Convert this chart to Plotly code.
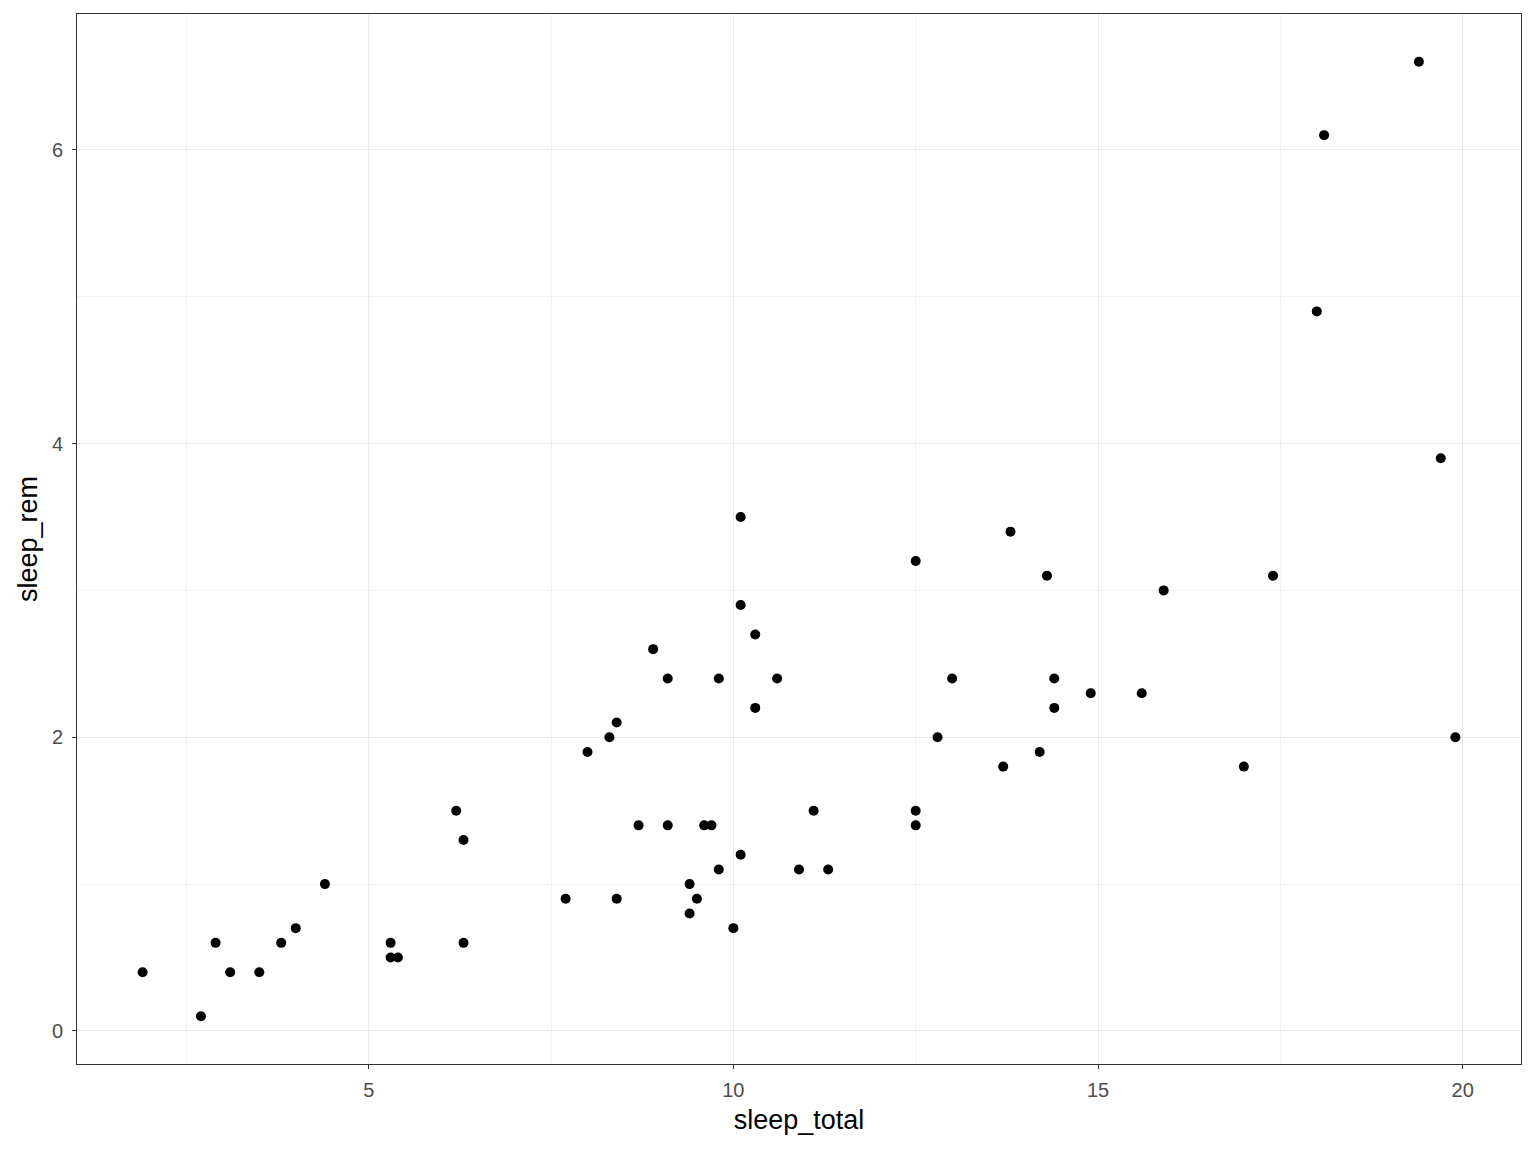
import plotly.graph_objects as go

sleep_total = [17.0, 14.4, 14.9, 4.0, 14.4, 8.7, 10.1, 5.3, 9.4, 10.0, 12.5, 10.3, 8.3, 9.1,
               17.4, 5.3, 18.0, 19.7, 2.9, 3.1, 10.1, 10.9, 12.5, 9.8, 1.9, 2.7, 6.2, 6.3,
               8.0, 9.5, 19.4, 10.1, 14.2, 14.3, 12.5, 19.9, 7.7, 8.4, 3.8, 9.7, 9.4, 10.3,
               13.7, 3.5, 11.1, 18.1, 5.4, 13.0, 9.6, 8.4, 11.3, 10.6, 13.8, 15.9, 12.8,
               9.1, 4.4, 15.6, 8.9, 6.3, 9.8]
sleep_rem = [1.8, 2.4, 2.3, 0.7, 2.2, 1.4, 2.9, 0.6, 0.8, 0.7, 1.5, 2.2, 2.0, 1.4,
             3.1, 0.5, 4.9, 3.9, 0.6, 0.4, 3.5, 1.1, 3.2, 1.1, 0.4, 0.1, 1.5, 0.6,
             1.9, 0.9, 6.6, 1.2, 1.9, 3.1, 1.4, 2.0, 0.9, 0.9, 0.6, 1.4, 1.0, 2.7,
             1.8, 0.4, 1.5, 6.1, 0.5, 2.4, 1.4, 2.1, 1.1, 2.4, 3.4, 3.0, 2.0,
             2.4, 1.0, 2.3, 2.6, 1.3, 2.4]

x_ticks = [5, 10, 15, 20]
y_ticks = [0, 2, 4, 6]

fig = go.Figure(go.Scatter(
    x=sleep_total, y=sleep_rem, mode="markers",
    marker=dict(color="black", size=10, line=dict(width=0)),
    showlegend=False,
))

axis_common = dict(
    showline=True, mirror=True, linecolor="#333333", linewidth=1,
    ticks="outside", ticklen=4, tickcolor="#333333", tickwidth=1,
    tickfont=dict(family="Liberation Sans, Arial", size=20, color="#4D4D4D"),
    showgrid=True, gridcolor="#EBEBEB", gridwidth=1.2,
    zeroline=False,
    title_font=dict(family="Liberation Sans, Arial", size=27, color="black"),
)

xmin, xmax = min(sleep_total), max(sleep_total)
ymin, ymax = min(sleep_rem), max(sleep_rem)
xpad = (xmax - xmin) * 0.05
ypad = (ymax - ymin) * 0.05

fig.update_xaxes(**axis_common, title_text="sleep_total", tickvals=x_ticks,
                 range=[xmin - xpad, xmax + xpad], title_standoff=10, ticklabelstandoff=4,
                 minor=dict(dtick=2.5, tick0=0, showgrid=True, gridcolor="#F2F2F2", gridwidth=0.8, ticks=""))
fig.update_yaxes(**axis_common, title_text="sleep_rem", tickvals=y_ticks,
                 range=[ymin - ypad, ymax + ypad], title_standoff=6, ticklabelstandoff=5,
                 minor=dict(dtick=1, tick0=0, showgrid=True, gridcolor="#F2F2F2", gridwidth=0.8, ticks=""))

# page body has an 8px margin, so offset the figure accordingly
fig.update_layout(
    width=1528, height=1144,
    plot_bgcolor="white", paper_bgcolor="white",
    margin=dict(l=69, r=15, t=6, b=88),
    font=dict(family="Liberation Sans, Arial"),
)

fig.write_html("out.html")
